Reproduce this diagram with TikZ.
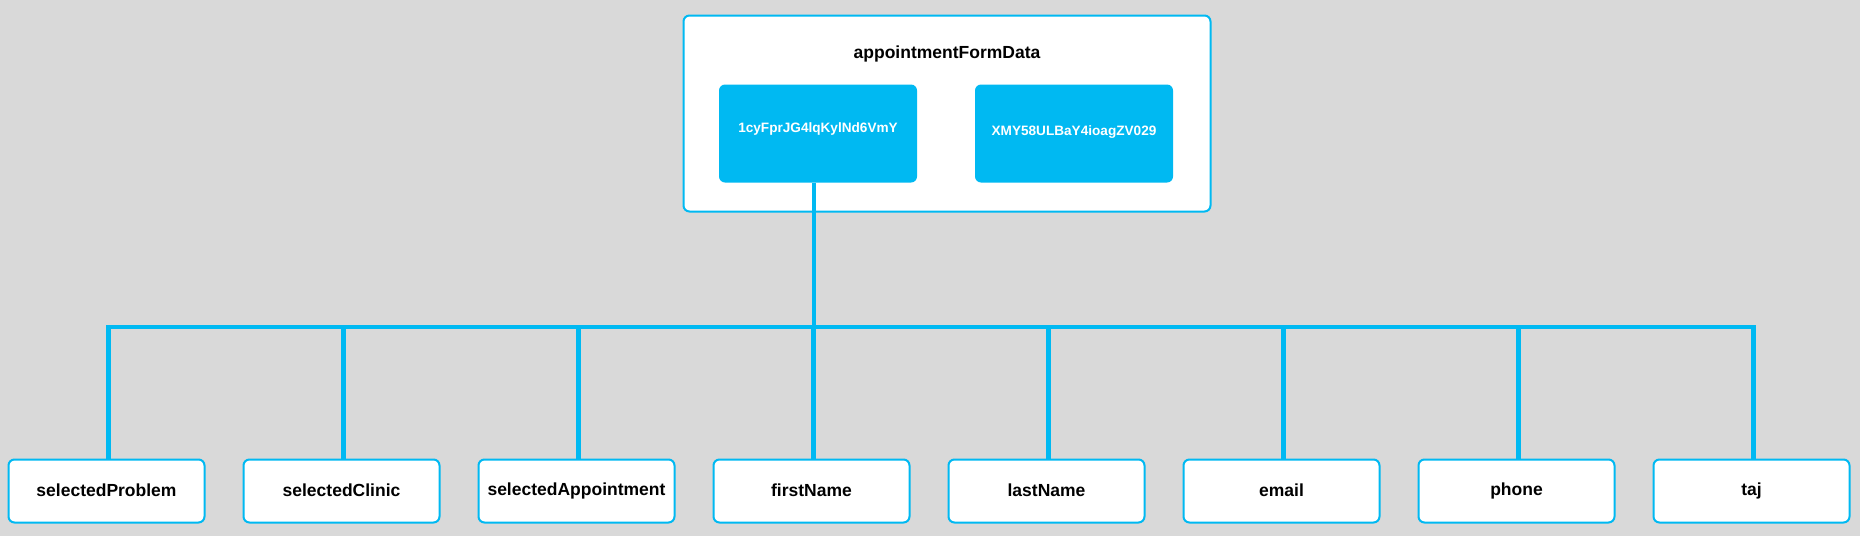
\documentclass[tikz,border=0pt]{standalone}
\usepackage{fontspec}
\setmainfont{Liberation Sans}
\definecolor{bg}{HTML}{D9D9D9}
\definecolor{cyanblue}{HTML}{00B9F2}
\begin{document}
\begin{tikzpicture}[x=1pt,y=-1pt,
  leaf/.style={draw=cyanblue,line width=2pt,fill=white,rounded corners=6pt,
    minimum width=196pt,minimum height=63pt,inner sep=0pt,
    font=\fontsize{17.5}{20}\selectfont\bfseries,text=black},
  key/.style={fill=cyanblue,rounded corners=6pt,minimum width=198pt,minimum height=98pt,
    inner sep=0pt},
  keytext/.style={font=\fontsize{13.6}{16}\selectfont\bfseries,text=white,inner sep=0pt},
  wire/.style={draw=cyanblue,line width=4.5pt}]
\fill[bg] (0,0) rectangle (1860,536);
\useasboundingbox (0,0) rectangle (1860,536);
% container
\node[draw=cyanblue,line width=2pt,fill=white,rounded corners=6pt,minimum width=527pt,
  minimum height=196pt,inner sep=0pt] (root) at (947,113.5) {};
\node[font=\fontsize{17.5}{20}\selectfont\bfseries,inner sep=0pt] (title) at (947,54) {appointmentFormData};
\node[key] (k1) at (818,133.5) {};
\node[key] (k2) at (1074,133.5) {};
\node[keytext] (k1t) at (818,129) {1cyFprJG4lqKylNd6VmY};
\node[keytext] (k2t) at (1074,132) {XMY58ULBaY4ioagZV029};
% leaves
\foreach \n/\t [count=\i from 0] in {p1/selectedProblem,p2/selectedClinic,p3/selectedAppointment,
  p4/firstName,p5/lastName,p6/email,p7/phone,p8/taj}{
  \node[leaf] (\n) at (106.5+235*\i,491) {\raisebox{2pt}{\t}};
}
\coordinate (bus) at (814,327);
\draw[wire] ([xshift=-4pt]k1.south) -- (bus);
\draw[wire,line cap=rect] ([xshift=2pt]p1.north |- bus) -- ([xshift=2pt]p8.north |- bus);
\foreach \n in {p1,p2,p3,p4,p5,p6,p7,p8}{
  \draw[wire] ([xshift=2pt]\n.north |- bus) -- ([xshift=2pt]\n.north);
}
\end{tikzpicture}
\end{document}
